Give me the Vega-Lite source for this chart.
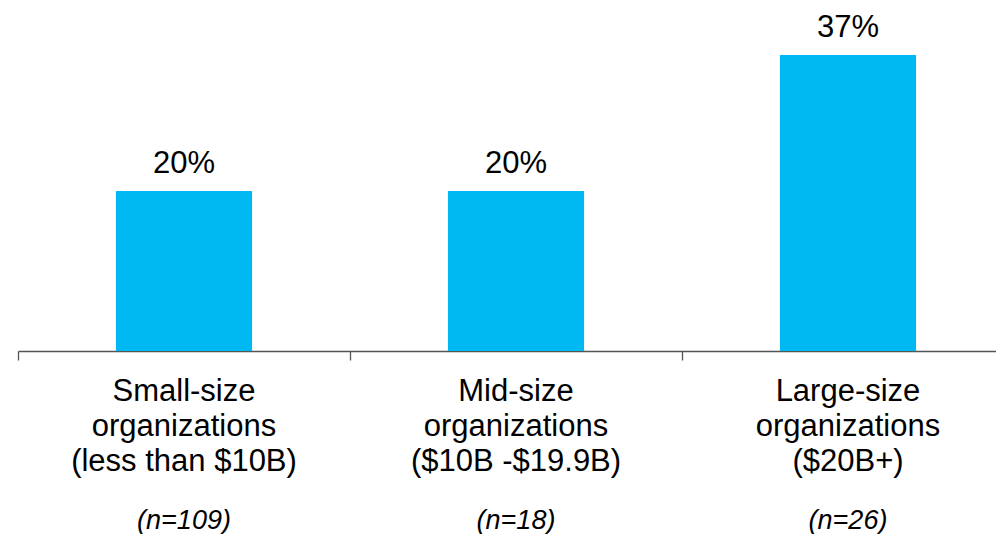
{
  "$schema": "https://vega.github.io/schema/vega-lite/v6.json",
  "autosize": "none",
  "width": 978,
  "height": 351,
  "padding": {"left": 18, "top": 0, "right": 0, "bottom": 183},
  "background": "white",
  "config": {
    "view": {"stroke": null},
    "font": "Liberation Sans"
  },
  "data": {
    "values": [
      {"group": "Small-size|organizations|(less than $10B)#(n=109)", "value": 20, "label": "20%"},
      {"group": "Mid-size|organizations|($10B -$19.9B)#(n=18)", "value": 20, "label": "20%"},
      {"group": "Large-size|organizations|($20B+)#(n=26)", "value": 37, "label": "37%"}
    ]
  },
  "encoding": {
    "x": {
      "field": "group",
      "type": "nominal",
      "sort": null,
      "scale": {"range": [0, 996], "paddingInner": 0, "paddingOuter": 0}
    },
    "y": {
      "field": "value",
      "type": "quantitative",
      "scale": {"domain": [0, 43.875], "nice": false},
      "axis": null
    }
  },
  "layer": [
    {
      "mark": {"type": "bar", "color": "#00B9F2", "width": {"band": 0.41}},
      "encoding": {
        "x": {
          "field": "group",
          "type": "nominal",
          "sort": null,
          "title": null,
          "axis": {
            "orient": "bottom",
            "labelAngle": 0,
            "labelExpr": "split(split(datum.value, '#')[0], '|')",
            "labelFont": "Liberation Sans",
            "labelFontSize": 31,
            "labelColor": "black",
            "labelLineHeight": 35,
            "labelLimit": 500,
            "labelPadding": 16,
            "labelBaseline": "top",
            "bandPosition": 0,
            "domainColor": "#555555",
            "domainWidth": 1.3,
            "tickColor": "#555555",
            "tickWidth": 1.3,
            "tickSize": 9,
            "grid": false
          }
        }
      }
    },
    {
      "mark": {"type": "text", "dy": -18, "baseline": "alphabetic", "fontSize": 31, "font": "Liberation Sans", "color": "black"},
      "encoding": {
        "x": {
          "field": "group",
          "type": "nominal",
          "sort": null,
          "title": null,
          "axis": {
            "orient": "bottom",
            "labelAngle": 0,
            "labelExpr": "split(datum.value, '#')[1]",
            "labelFont": "Liberation Sans",
            "labelFontSize": 27,
            "labelFontStyle": "italic",
            "labelColor": "black",
            "labelLimit": 500,
            "labelPadding": 156,
            "labelBaseline": "top",
            "domain": false,
            "ticks": false,
            "grid": false
          }
        },
        "text": {"field": "label"}
      }
    }
  ],
  "resolve": {"axis": {"x": "independent"}}
}
